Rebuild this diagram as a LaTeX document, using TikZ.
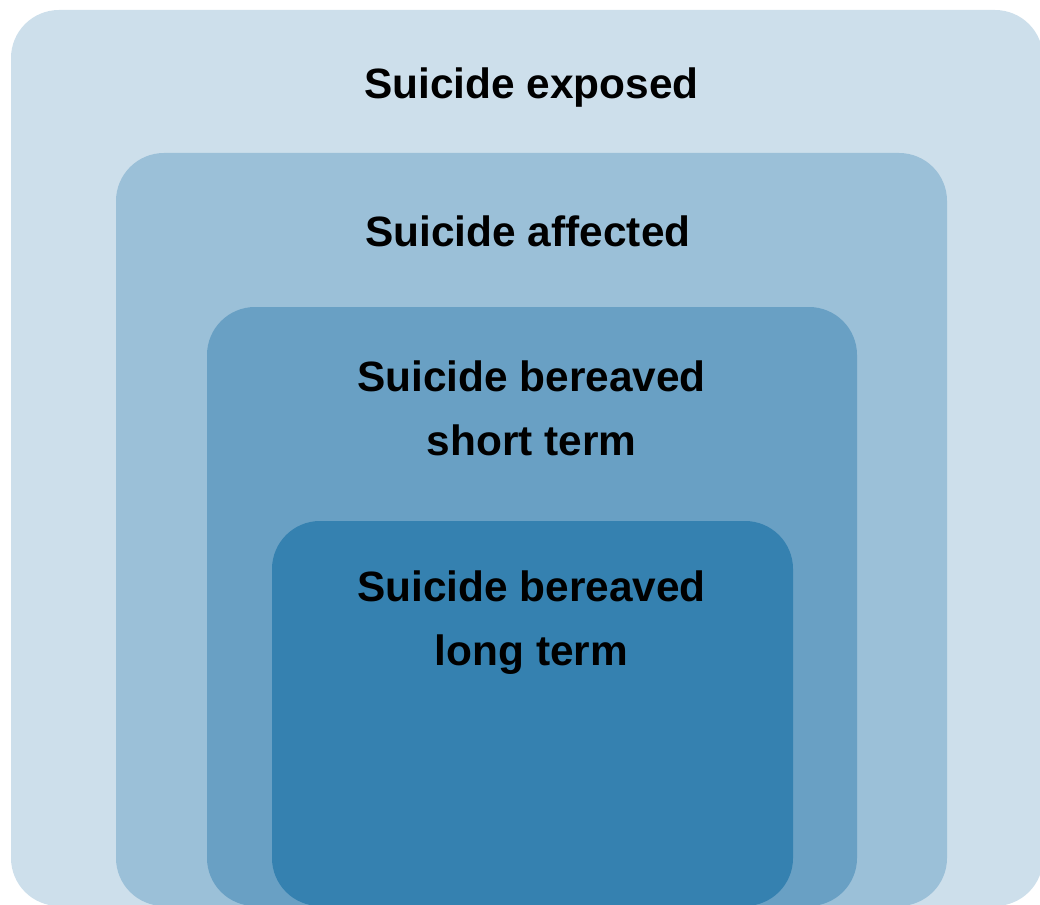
\documentclass[tikz,border=0pt]{standalone}
\usepackage{fontspec}
\setmainfont{Liberation Sans}
\definecolor{c1}{RGB}{205,223,235}
\definecolor{c2}{RGB}{155,192,216}
\definecolor{c3}{RGB}{105,160,196}
\definecolor{c4}{RGB}{53,129,176}
\tikzset{
  layer/.style={rounded corners=48pt},
  lbl/.style={anchor=base, align=center, font=\fontsize{42.4}{64}\selectfont\bfseries, inner sep=0pt, text=black}
}
\begin{document}
\begin{tikzpicture}[x=1pt,y=1pt]
\useasboundingbox (0,0) rectangle (1040,-904);
\clip (0,0) rectangle (1040,-904);
\fill[c1,layer] (11,-10) rectangle (1043,-906);
\fill[c2,layer] (116,-153) rectangle (947,-906);
\fill[c3,layer] (207,-307) rectangle (857,-906);
\fill[c4,layer] (272,-521) rectangle (793,-906);
\node[lbl] (t1) at (531.5,-99) {Suicide exposed};
\node[lbl] (t2) at (528,-246) {Suicide affected};
\node[lbl] (t3a) at (531.5,-391) {Suicide bereaved};
\node[lbl] (t3b) at (531.5,-455) {short term};
\node[lbl] (t4a) at (531.5,-601) {Suicide bereaved};
\node[lbl] (t4b) at (531.5,-665) {long term};
\end{tikzpicture}
\end{document}
